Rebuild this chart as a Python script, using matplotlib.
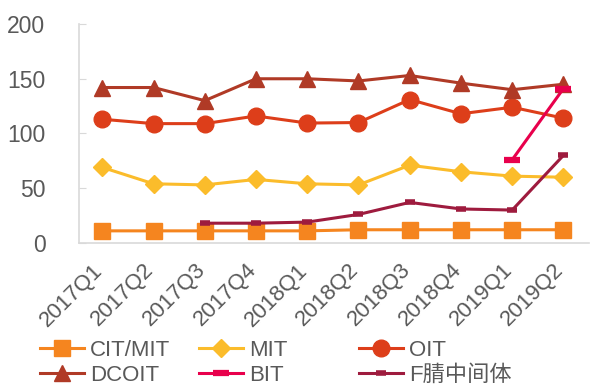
import matplotlib.pyplot as plt
import matplotlib.transforms as mtransforms
import numpy as np

plt.rcParams['font.family'] = ['Liberation Sans', 'Noto Sans CJK SC', 'DejaVu Sans']

quarters = ["2017Q1", "2017Q2", "2017Q3", "2017Q4", "2018Q1",
            "2018Q2", "2018Q3", "2018Q4", "2019Q1", "2019Q2"]

cit_mit = [11, 11, 11, 11, 11, 12, 12, 12, 12, 12]
mit = [69, 54, 53, 58, 54, 53, 71, 65, 61, 60]
oit = [113, 109, 109, 116, 109.5, 110, 131, 118, 124, 114]
dcoit = [142, 142, 130, 150, 150, 148, 153, 146, 140, 145]
bit = [np.nan] * 8 + [76, 141]
f_mid = [np.nan, np.nan, 18, 18, 19, 26, 37, 31, 30, 80]

grey = "#595959"
x = np.arange(len(quarters))

fig = plt.figure(figsize=(5.92, 3.88), dpi=100)
ax = fig.add_axes([0.133, 0.374, 0.862, 0.564])

l1, = ax.plot(x, cit_mit, color="#F5851F", lw=2.2, marker="s", ms=11, label="CIT/MIT")
l2, = ax.plot(x, mit, color="#FBBC2B", lw=2.2, marker="D", ms=9, label="MIT")
l3, = ax.plot(x, oit, color="#DD3E1A", lw=2.2, marker="o", ms=12, label="OIT")
l4, = ax.plot(x, dcoit, color="#B03A26", lw=2.2, marker="^", ms=12, label="DCOIT")
l5, = ax.plot(x, bit, color="#E8004C", lw=2.2, marker="_", ms=12, mew=4.5, label="BIT")
l6, = ax.plot(x, f_mid, color="#9E1B3E", lw=2.2, marker="_", ms=7, mew=4, label="F腈中间体")

ax.set_xlim(-0.46, 9.5)
ax.set_ylim(0, 200)
ax.set_yticks([0, 50, 100, 150, 200])
ax.set_xticks(x)
ax.set_xticklabels(quarters, rotation=45, ha="right", rotation_mode="anchor")

for s in ["top", "right"]:
    ax.spines[s].set_visible(False)
for s in ["left", "bottom"]:
    ax.spines[s].set_color("#D9D9D9")
    ax.spines[s].set_linewidth(1.2)
ax.tick_params(axis="y", direction="in", length=5, color="#D9D9D9", labelsize=16.5,
               labelcolor=grey, pad=24)
ax.tick_params(axis="x", length=0, labelsize=16, labelcolor=grey, pad=12)

# nudge rotated quarter labels a little to the left
shift = mtransforms.ScaledTranslation(-10 / 100, 0, fig.dpi_scale_trans)
for lab in ax.get_xticklabels():
    lab.set_transform(lab.get_transform() + shift)

# three legend columns, two entries each
cols = [(l1, l4), (l2, l5), (l3, l6)]
xpos = [40 / 592, 199 / 592, 359 / 592]
for (a, b), xp in zip(cols, xpos):
    fig.legend([a, b], [a.get_label(), b.get_label()], frameon=False,
               loc="lower left", bbox_to_anchor=(xp, 0.006), fontsize=16,
               labelcolor=grey, handlelength=2.0, handletextpad=0.25,
               labelspacing=0.18, borderaxespad=0, borderpad=0)

fig.savefig("out.png", dpi=100)
